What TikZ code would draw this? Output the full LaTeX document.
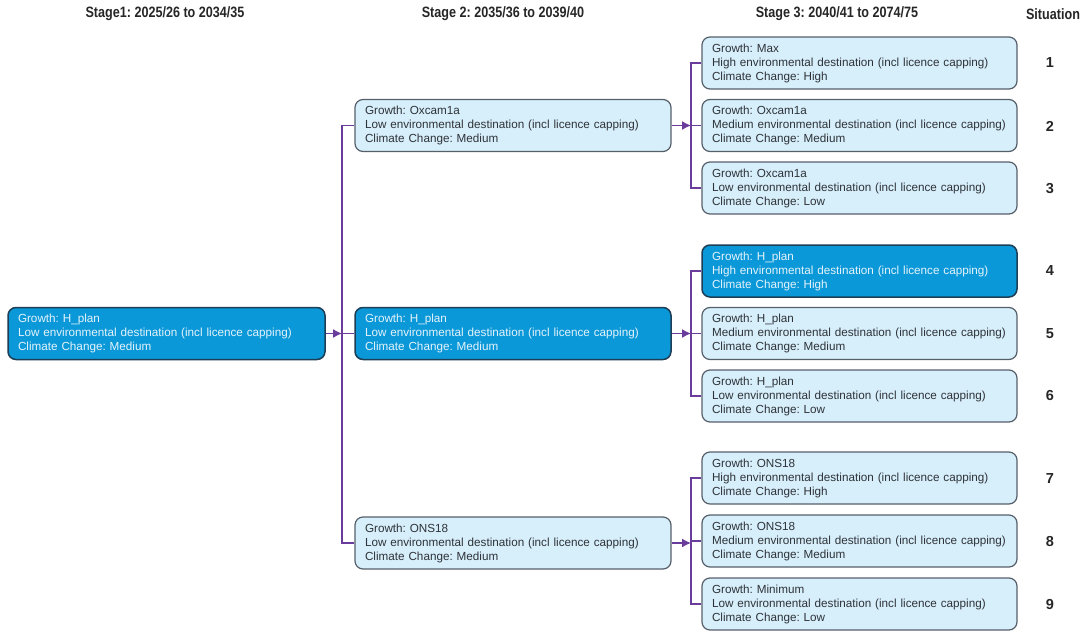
\documentclass[tikz,border=0pt]{standalone}
\usepackage{fontspec}
\setmainfont{Liberation Sans}
\usetikzlibrary{arrows.meta}
\frenchspacing
\definecolor{lightfill}{HTML}{D7EEFB}
\definecolor{darkfill}{HTML}{0B98D8}
\definecolor{lightedge}{HTML}{56606A}
\definecolor{darkedge}{HTML}{1C3E56}
\definecolor{conncol}{HTML}{6A3C9C}
\definecolor{darktext}{HTML}{2E3338}
\definecolor{paletext}{HTML}{E4F3FB}
\tikzset{
  x=1pt, y=-1pt,
  box/.style={rectangle, rounded corners=8pt, line width=1.2pt, align=left,
    inner xsep=10pt, inner ysep=0pt, minimum height=52pt,
    font=\fontsize{11.7}{14}\selectfont},
  lbox/.style={box, draw=lightedge, fill=lightfill, text=darktext},
  dbox/.style={box, draw=darkedge, fill=darkfill, text=paletext, line width=1.5pt},
  w1/.style={text width=297pt},
  w2/.style={text width=296pt},
  w3/.style={text width=295pt},
  conn/.style={draw=conncol, line width=1.4pt},
  arr/.style={-{Latex[length=9pt,width=9pt]}},
  head/.style={font=\fontsize{15}{17}\selectfont\bfseries, text=black!85, inner sep=0pt},
  num/.style={font=\fontsize{14.5}{17}\selectfont\bfseries, text=black!85, inner sep=0pt}
}
\newcommand{\cx}[1]{\scalebox{0.84}[1]{#1}}
\begin{document}
\begin{tikzpicture}
\useasboundingbox (0,0) rectangle (1088,632);
% headers
\node[head] (h1) at (165,14) {\cx{Stage1: 2025/26 to 2034/35}};
\node[head] (h2) at (503,14) {\cx{Stage 2: 2035/36 to 2039/40}};
\node[head] (h3) at (837,14) {\cx{Stage 3: 2040/41 to 2074/75}};
\node[head] (h4) at (1053,14) {\cx{Situation}};
% stage 1
\node[dbox, w1] (s1) at (166.5,333.5) {Growth: H\_plan\\Low environmental destination (incl licence capping)\\Climate Change: Medium};
% stage 2
\node[lbox, w2] (b2a) at (513,125.5) {Growth: Oxcam1a\\Low environmental destination (incl licence capping)\\Climate Change: Medium};
\node[dbox, w2] (b2b) at (513,333.5) {Growth: H\_plan\\Low environmental destination (incl licence capping)\\Climate Change: Medium};
\node[lbox, w2] (b2c) at (513,543) {Growth: ONS18\\Low environmental destination (incl licence capping)\\Climate Change: Medium};
% stage 3
\node[lbox, w3] (c1) at (859.5,63) {Growth: Max\\High environmental destination (incl licence capping)\\Climate Change: High};
\node[lbox, w3] (c2) at (859.5,125.5) {Growth: Oxcam1a\\Medium environmental destination (incl licence capping)\\Climate Change: Medium};
\node[lbox, w3] (c3) at (859.5,188) {Growth: Oxcam1a\\Low environmental destination (incl licence capping)\\Climate Change: Low};
\node[dbox, w3] (c4) at (859.5,271) {Growth: H\_plan\\High environmental destination (incl licence capping)\\Climate Change: High};
\node[lbox, w3] (c5) at (859.5,333.5) {Growth: H\_plan\\Medium environmental destination (incl licence capping)\\Climate Change: Medium};
\node[lbox, w3] (c6) at (859.5,396) {Growth: H\_plan\\Low environmental destination (incl licence capping)\\Climate Change: Low};
\node[lbox, w3] (c7) at (859.5,478) {Growth: ONS18\\High environmental destination (incl licence capping)\\Climate Change: High};
\node[lbox, w3] (c8) at (859.5,541) {Growth: ONS18\\Medium environmental destination (incl licence capping)\\Climate Change: Medium};
\node[lbox, w3] (c9) at (859.5,604) {Growth: Minimum\\Low environmental destination (incl licence capping)\\Climate Change: Low};
% situation numbers
\node[num] (n1) at (1050,63) {1};
\node[num] (n2) at (1050,126) {2};
\node[num] (n3) at (1050,189) {3};
\node[num] (n4) at (1050,271) {4};
\node[num] (n5) at (1050,334) {5};
\node[num] (n6) at (1050,396) {6};
\node[num] (n7) at (1050,479) {7};
\node[num] (n8) at (1050,542) {8};
\node[num] (n9) at (1050,605) {9};
% junctions
\coordinate (j1) at (342,333.5);
\coordinate (ja) at (691,125.5);
\coordinate (jb) at (691,333.5);
\coordinate (jc) at (691,541);
% connectors stage 1 -> 2
\draw[conn] (b2a.west) -| (j1) |- (b2c.west);
\draw[conn] (j1) -- (b2b.west);
\draw[conn, arr] (s1.east) -- (j1);
% stage 2 -> 3
\draw[conn] (c1.west) -| (ja) |- (c3.west);
\draw[conn] (ja) -- (c2.west);
\draw[conn, arr] (b2a.east) -- (ja);
\draw[conn] (c4.west) -| (jb) |- (c6.west);
\draw[conn] (jb) -- (c5.west);
\draw[conn, arr] (b2b.east) -- (jb);
\draw[conn] (c7.west) -| (jc) |- (c9.west);
\draw[conn] (jc) -- (c8.west);
\draw[conn, arr] (b2c.east) -- (b2c.east -| jc);
\end{tikzpicture}
\end{document}
